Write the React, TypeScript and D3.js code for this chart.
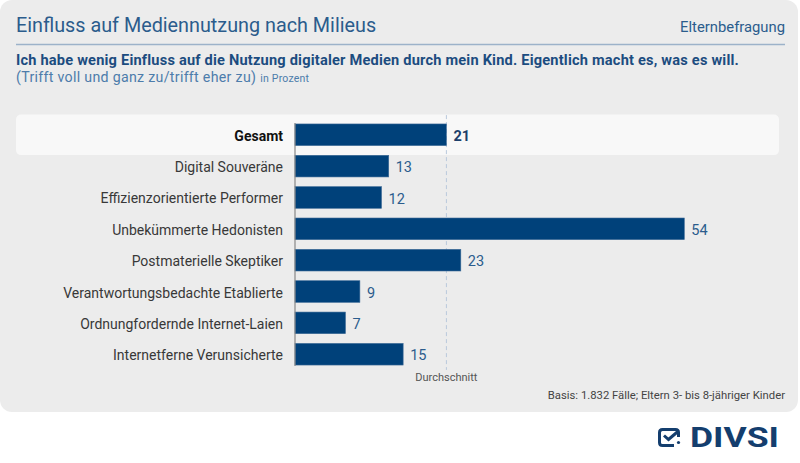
import React from 'react';
import * as d3 from 'd3';

const categories = [
  'Gesamt',
  'Digital Souveräne',
  'Effizienzorientierte Performer',
  'Unbekümmerte Hedonisten',
  'Postmaterielle Skeptiker',
  'Verantwortungsbedachte Etablierte',
  'Ordnungfordernde Internet-Laien',
  'Internetferne Verunsicherte',
];
const values = [21, 13, 12, 54, 23, 9, 7, 15];
const averageValue = 21;

const FONT = 'Roboto, "DejaVu Sans", sans-serif';
const BLUE_TEXT = '#2b5c8c';
const BAR = '#00417a';
const LOGO = '#143e6e';

const App: React.FC = () => {
  const width = 800;
  const height = 463;

  // --- scales ---
  const x = d3.scaleLinear().domain([0, 54]).range([295, 684.3]);
  const y = d3
    .scaleBand<string>()
    .domain(categories)
    .range([119.1, 369.9])
    .paddingInner(0.31)
    .paddingOuter(0.155);

  const bw = y.bandwidth();
  const axisTop = y.range()[0];
  const axisBottom = y.range()[1];

  return (
    <div style={{ position: 'absolute', left: 0, top: 0 }}>
      <svg width={width} height={height} style={{ display: 'block', fontFamily: FONT }}>
        <rect x={0} y={0} width={width} height={height} fill="#ffffff" />
        {/* panel */}
        <rect x={0} y={0} width={798} height={412} rx={12} fill="#ececec" />

        {/* header */}
        <text x={16} y={32} fontSize={19.8} fill={BLUE_TEXT}>
          Einfluss auf Mediennutzung nach Milieus
        </text>
        <text x={785} y={32} fontSize={14.8} fill={BLUE_TEXT} textAnchor="end">
          Elternbefragung
        </text>
        <line x1={16} x2={785} y1={44.5} y2={44.5} stroke="#9cb2c9" strokeWidth={1.5} />
        <text x={16} y={65} fontSize={14.6} fontWeight={700} fill="#1c4c80" letterSpacing={0.2}>
          Ich habe wenig Einfluss auf die Nutzung digitaler Medien durch mein Kind. Eigentlich macht es, was es will.
        </text>
        <text x={16} y={82} fontSize={14.2} fill="#4d7cab" letterSpacing={0.3}>
          (Trifft voll und ganz zu/trifft eher zu)
          <tspan fontSize={10.5} dx={4} letterSpacing={0.2}>in Prozent</tspan>
        </text>

        {/* highlight row */}
        <rect
          x={16}
          y={(y('Gesamt') ?? 0) - 9.5}
          width={763}
          height={bw + 19}
          rx={5}
          fill="#f8f8f8"
        />

        {/* average line */}
        <line
          x1={x(averageValue)}
          x2={x(averageValue)}
          y1={axisTop - 4}
          y2={axisBottom}
          stroke="#b9c9dc"
          strokeWidth={1}
          strokeDasharray="4,3"
        />
        <text x={x(averageValue)} y={381} fontSize={11} fill="#555" textAnchor="middle">
          Durchschnitt
        </text>

        {/* bars */}
        {categories.map((c, i) => {
          const top = y(c) ?? 0;
          const isTotal = i === 0;
          return (
            <g key={c}>
              <rect
                x={x(0)}
                y={top}
                width={x(values[i]) - x(0)}
                height={bw}
                fill={BAR}
                stroke="#3d6a97"
                strokeWidth={0.6}
              />
              <text
                x={283}
                y={top + bw / 2}
                dy="0.43em"
                fontSize={14}
                textAnchor="end"
                fill={isTotal ? '#111' : '#383838'}
                fontWeight={isTotal ? 700 : 400}
              >
                {c}
              </text>
              <text
                x={x(values[i]) + 7}
                y={top + bw / 2}
                dy="0.42em"
                fontSize={14.5}
                fill={isTotal ? '#1c3f6b' : BLUE_TEXT}
                fontWeight={isTotal ? 700 : 400}
              >
                {values[i]}
              </text>
            </g>
          );
        })}

        {/* axis line */}
        <line x1={x(0)} x2={x(0)} y1={axisTop + 4} y2={axisBottom - 4} stroke="#888" strokeWidth={1.2} />

        {/* footer */}
        <text x={785} y={399} fontSize={11.3} fill="#444" textAnchor="end">
          Basis: 1.832 Fälle; Eltern 3- bis 8-jähriger Kinder
        </text>

        {/* logo */}
        <g transform="translate(658,428)" fill="none" stroke={LOGO} strokeWidth={3}>
          <path d="M20.5,9 V4.5 Q20.5,1.5 17.5,1.5 H4.5 Q1.5,1.5 1.5,4.5 V14.5 Q1.5,17.5 4.5,17.5 H16" />
          <path d="M6,7.5 L10.5,11.5 L20.5,3" />
          <circle cx={20.5} cy={14.5} r={1.6} fill={LOGO} stroke="none" />
        </g>
        <text
          x={690}
          y={447}
          fontSize={27}
          fontWeight={700}
          fill={LOGO}
          textLength={89}
          lengthAdjust="spacingAndGlyphs"
        >
          DIVSI
        </text>
      </svg>
    </div>
  );
};

export default App;
